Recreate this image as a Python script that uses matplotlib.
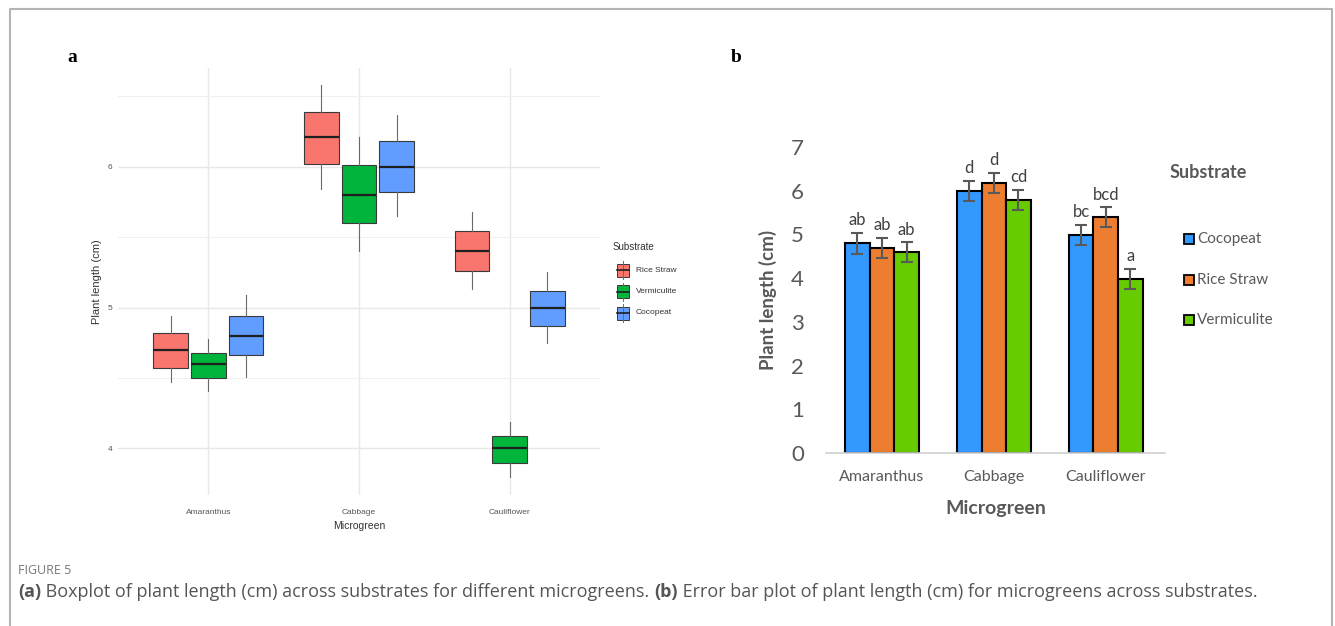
import matplotlib
matplotlib.use("Agg")
import matplotlib.pyplot as plt
from matplotlib.patches import Rectangle
import numpy as np

# ---- data ----
categories = ["Amaranthus", "Cabbage", "Cauliflower"]

# panel a: boxplot stats per category (whislo, q1, med, q3, whishi)
box_substrates = ["Rice Straw", "Vermiculite", "Cocopeat"]
rice_straw_box = [[4.47, 4.57, 4.70, 4.82, 4.94],
                  [5.84, 6.02, 6.21, 6.39, 6.58],
                  [5.13, 5.26, 5.40, 5.54, 5.68]]
vermiculite_box = [[4.41, 4.50, 4.60, 4.68, 4.78],
                   [5.40, 5.60, 5.80, 6.01, 6.21],
                   [3.80, 3.90, 4.00, 4.09, 4.19]]
cocopeat_box = [[4.51, 4.66, 4.80, 4.94, 5.09],
                [5.65, 5.82, 6.00, 6.18, 6.37],
                [4.75, 4.87, 5.00, 5.12, 5.25]]
box_ticks = [4, 5, 6]

# panel b: mean plant length with error bars and letters
bar_substrates = ["Cocopeat", "Rice Straw", "Vermiculite"]
cocopeat_mean = [4.80, 6.00, 4.99]
rice_straw_mean = [4.69, 6.18, 5.39]
vermiculite_mean = [4.59, 5.79, 3.99]
cocopeat_err = [0.24, 0.23, 0.23]
rice_straw_err = [0.23, 0.23, 0.23]
vermiculite_err = [0.23, 0.23, 0.23]
cocopeat_letters = ["ab", "d", "bc"]
rice_straw_letters = ["ab", "d", "bcd"]
vermiculite_letters = ["ab", "cd", "a"]

caption_head = "FIGURE 5"
caption_parts = [("(a)", "bold"),
                 (" Boxplot of plant length (cm) across substrates for different microgreens. ", "normal"),
                 ("(b)", "bold"),
                 (" Error bar plot of plant length (cm) for microgreens across substrates.", "normal")]

W, H = 1335, 626
fig = plt.figure(figsize=(W / 100, H / 100), dpi=100)


def fx(x):
    return x / W


def fy(y):
    return 1 - y / H


# overlay axes in pixel coords for frame, legends, captions
over = fig.add_axes([0, 0, 1, 1])
over.set_xlim(0, W)
over.set_ylim(H, 0)
over.axis("off")
over.plot([10, 10, 1332, 1332], [H, 9, 9, H], color="#b4b4b4", lw=1.5)

# ---------------- panel a ----------------
box_colors = {"Rice Straw": "#F8766D", "Vermiculite": "#00B43C", "Cocopeat": "#619CFF"}
box_data = {"Rice Straw": rice_straw_box, "Vermiculite": vermiculite_box, "Cocopeat": cocopeat_box}

axa = fig.add_axes([fx(118), fy(495), fx(600) - fx(118), fy(68) - fy(495)])
axa.set_xlim(0.4, 3.6)
axa.set_ylim(3.67, 6.70)
for s in axa.spines.values():
    s.set_visible(False)
axa.set_yticks(box_ticks)
axa.set_yticks([4.5, 5.5, 6.5], minor=True)
axa.set_xticks(range(1, len(categories) + 1))
axa.set_xticklabels(categories, fontsize=6, color="#555555", family="Liberation Sans")
axa.set_yticklabels([str(t) for t in box_ticks], fontsize=6, color="#555555", family="Liberation Sans")
axa.tick_params(axis="y", length=0, pad=4)
axa.tick_params(axis="x", length=0, pad=10)
axa.tick_params(which="minor", length=0)
axa.grid(True, which="major", color="#e8e8e8", lw=1.0)
axa.grid(True, which="minor", axis="y", color="#f0f0f0", lw=0.8)
axa.set_axisbelow(True)

offsets = [-0.25, 0.0, 0.25]
for k, sub in enumerate(box_substrates):
    stats = []
    for row in box_data[sub]:
        stats.append(dict(whislo=row[0], q1=row[1], med=row[2], q3=row[3], whishi=row[4], fliers=[]))
    pos = np.arange(1, len(categories) + 1) + offsets[k]
    axa.bxp(stats, positions=pos, widths=0.23, patch_artist=True, showfliers=False, showcaps=False,
            boxprops=dict(facecolor=box_colors[sub], edgecolor="#3a3a3a", lw=0.8),
            medianprops=dict(color="#1f1f1f", lw=1.6),
            whiskerprops=dict(color="#6a6a6a", lw=0.8), manage_ticks=False)

axa.set_xlabel("Microgreen", fontsize=7.5, color="#333333", family="Liberation Sans", labelpad=4)
axa.set_ylabel("Plant length (cm)", fontsize=8, color="#333333", family="Liberation Sans", labelpad=4)

# panel a legend
over.text(613, 247, "Substrate", fontsize=7, color="#333333", family="Liberation Sans", va="center")
for k, sub in enumerate(box_substrates):
    yc = 270 + k * 21.5
    over.plot([623, 623], [yc - 9, yc + 9], color="#6a6a6a", lw=0.7)
    over.add_patch(Rectangle((617, yc - 6.5), 12, 13, facecolor=box_colors[sub], edgecolor="#3a3a3a", lw=0.7))
    over.plot([617, 629], [yc, yc], color="#1f1f1f", lw=1.2)
    over.text(636, yc, sub, fontsize=6, color="#333333", family="Liberation Sans", va="center")

# ---------------- panel b ----------------
bar_colors = {"Cocopeat": "#3399FF", "Rice Straw": "#ED7D31", "Vermiculite": "#66CC00"}
bar_means = {"Cocopeat": cocopeat_mean, "Rice Straw": rice_straw_mean, "Vermiculite": vermiculite_mean}
bar_errs = {"Cocopeat": cocopeat_err, "Rice Straw": rice_straw_err, "Vermiculite": vermiculite_err}
bar_letters = {"Cocopeat": cocopeat_letters, "Rice Straw": rice_straw_letters, "Vermiculite": vermiculite_letters}

fb = ["Lato", "DejaVu Sans"]
axb = fig.add_axes([fx(826), fy(453), fx(1165) - fx(826), fy(147) - fy(453)])
axb.set_xlim(-0.5, 2.53)
axb.set_ylim(0, 7)
for name in ["top", "right", "left"]:
    axb.spines[name].set_visible(False)
axb.spines["bottom"].set_color("#d0d0d0")
axb.spines["bottom"].set_linewidth(1.2)
axb.set_yticks(range(0, 8))
axb.set_yticklabels([str(v) for v in range(0, 8)], fontsize=16, color="#595959", family=fb)
axb.set_xticks(range(len(categories)))
axb.set_xticklabels(categories, fontsize=11.5, color="#595959", family=fb)
axb.tick_params(axis="y", length=0, pad=16)
axb.tick_params(axis="x", length=0, pad=12)

bw = 0.22
x = np.arange(len(categories))
for k, sub in enumerate(bar_substrates):
    xs = x + (k - 1) * bw
    axb.bar(xs, bar_means[sub], width=bw, color=bar_colors[sub], edgecolor="black", lw=1.5, zorder=2)
    axb.errorbar(xs, bar_means[sub], yerr=bar_errs[sub], fmt="none", ecolor="#595959",
                 elinewidth=1.5, capsize=4, capthick=1.5, zorder=3)
    for xi, m, e, lab in zip(xs, bar_means[sub], bar_errs[sub], bar_letters[sub]):
        axb.text(xi, m + e + 0.17, lab, ha="center", va="baseline", fontsize=12,
                 color="#404040", family=fb, clip_on=False)

axb.set_xlabel("Microgreen", fontsize=14, fontweight="bold", color="#595959", family=fb, labelpad=12)
axb.set_ylabel("Plant length (cm)", fontsize=13.5, fontweight="bold", color="#595959", family=fb, labelpad=10)

# panel b legend
over.text(1170, 172, "Substrate", fontsize=13, fontweight="bold", color="#595959", family=fb, va="center")
for k, sub in enumerate(bar_substrates):
    yc = 239 + k * 40.5
    over.add_patch(Rectangle((1184, yc - 5), 10, 10, facecolor=bar_colors[sub], edgecolor="black", lw=1.3))
    over.text(1197, yc, sub, fontsize=11, color="#595959", family=fb, va="center")

# panel labels
over.text(67, 57, "a", fontsize=14, fontweight="bold", family="Liberation Serif", va="center")
over.text(731, 57, "b", fontsize=14, fontweight="bold", family="Liberation Serif", va="center")

# caption: size it so the line runs to the same right end as the reference
cap_x0, cap_x1 = 18, 1267
over.text(cap_x0, 570, caption_head, fontsize=9, color="#777777", family="Open Sans", va="center")
fig.canvas.draw()
renderer = fig.canvas.get_renderer()


def place_caption(size):
    arts = []
    xpos = cap_x0
    for txt, wt in caption_parts:
        t = over.text(xpos, 592, txt, fontsize=size, fontweight=wt, color="#555555",
                      family="Open Sans", va="center")
        xpos += t.get_window_extent(renderer).width
        arts.append(t)
    return arts, xpos


arts, end = place_caption(10.5)
size = 10.5 * (cap_x1 - cap_x0) / (end - cap_x0)
for a in arts:
    a.remove()
place_caption(size)

fig.savefig("out.png", dpi=100)
